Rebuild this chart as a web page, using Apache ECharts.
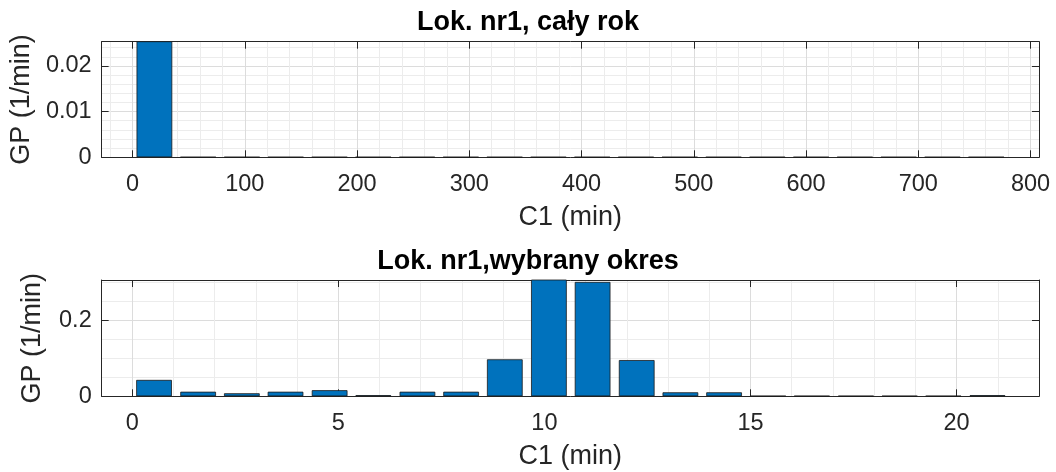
<!DOCTYPE html>
<html>
<head>
<meta charset="utf-8">
<script src="https://cdn.jsdelivr.net/npm/echarts@6/dist/echarts.min.js"></script>
<style>
html,body{margin:0;padding:0;background:#fff;}
#c{width:1056px;height:472px;}
</style>
</head>
<body>
<div id="c"></div>
<script>
// ---- data ----
const topTitle = 'Lok. nr1, cały rok';
const bottomTitle = 'Lok. nr1,wybrany okres';
const xName = 'C1 (min)';
const yName = 'GP (1/min)';

const topCenters = [19.5, 58.5, 97.5, 136.5, 175.5, 214.5, 253.5, 292.5, 331.5, 370.5,
                    409.5, 448.5, 487.5, 526.5, 565.5, 604.5, 643.5, 682.5, 721.5, 760.5];
const topValues = [0.026, 0.00005, 0.00005, 0.00005, 0.00005, 0.00005, 0.00005, 0.00005, 0.00005, 0.00005,
                   0.00005, 0.00005, 0.00005, 0.00005, 0.00005, 0.00005, 0.00005, 0.00005, 0.00005, 0.00005];

const bottomCenters = [0.53, 1.60, 2.66, 3.72, 4.79, 5.85, 6.92, 7.98, 9.04, 10.11,
                       11.17, 12.24, 13.30, 14.36, 15.43, 16.49, 17.56, 18.62, 19.68, 20.75];
const bottomValues = [0.043, 0.012, 0.008, 0.012, 0.016, 0.003, 0.012, 0.012, 0.097, 0.32,
                      0.300, 0.095, 0.0105, 0.0105, 0.001, 0.001, 0.001, 0.001, 0.001, 0.003];

const topXTicks = [0, 100, 200, 300, 400, 500, 600, 700, 800];
const topXMinor = [-20, 20, 40, 60, 80, 120, 140, 160, 180, 220, 240, 260, 280, 320, 340, 360, 380,
                   420, 440, 460, 480, 520, 540, 560, 580, 620, 640, 660, 680, 720, 740, 760, 780];
const topYTicks = [0, 0.01, 0.02];
const topYMinor = [0.002, 0.004, 0.006, 0.008, 0.012, 0.014, 0.016, 0.018, 0.022, 0.024];

const bottomXTicks = [0, 5, 10, 15, 20];
const bottomXMinor = [1, 2, 3, 4, 6, 7, 8, 9, 11, 12, 13, 14, 16, 17, 18, 19, 21];
const bottomYTicks = [0, 0.2];
const bottomYMinor = [0.05, 0.1, 0.15, 0.25, 0.3];

const topXRange = [-27.5, 807.5];
const topYRange = [0, 0.0253];
const bottomXRange = [-0.74, 22.0];
const bottomYRange = [0, 0.305];

// ---- styles ----
const FONT = 'Liberation Sans, Arial, Helvetica, sans-serif';
const AX = '#262626';
const MAJOR = '#dcdcdc';
const MINOR = '#ececec';
const BAR = '#0072BD';

function mainX(grid, range, ticks) {
  return {
    gridIndex: grid, type: 'value', position: 'bottom', min: range[0], max: range[1],
    axisLine: {show: true, onZero: false, lineStyle: {color: AX, width: 1}},
    axisTick: {show: true, inside: true, length: 7, customValues: ticks, lineStyle: {color: AX}},
    axisLabel: {show: true, customValues: ticks, margin: 15, fontSize: 23.5, fontFamily: FONT, color: AX},
    splitLine: {show: true, lineStyle: {color: MAJOR, width: 1}},
    name: xName, nameLocation: 'middle', nameGap: 47,
    nameTextStyle: {fontSize: 27, fontFamily: FONT, color: AX}
  };
}
function sideX(grid, range, ticks) {
  return {
    gridIndex: grid, type: 'value', position: 'top', min: range[0], max: range[1],
    axisLine: {show: true, onZero: false, lineStyle: {color: AX, width: 1}},
    axisTick: {show: true, inside: true, length: 7, customValues: ticks, lineStyle: {color: AX}},
    axisLabel: {show: false, customValues: ticks},
    splitLine: {show: false}
  };
}
function minorX(grid, range, minor) {
  return {
    gridIndex: grid, type: 'value', position: 'bottom', offset: 0, min: range[0], max: range[1],
    axisLine: {show: false},
    axisTick: {show: false, customValues: minor},
    axisLabel: {show: false, customValues: minor},
    splitLine: {show: true, lineStyle: {color: MINOR, width: 1}}
  };
}
function mainY(grid, range, ticks) {
  return {
    gridIndex: grid, type: 'value', position: 'left', min: range[0], max: range[1],
    axisLine: {show: true, onZero: false, lineStyle: {color: AX, width: 1}},
    axisTick: {show: true, inside: true, length: 7, customValues: ticks, lineStyle: {color: AX}},
    axisLabel: {show: true, customValues: ticks, margin: 10, fontSize: 23.5, fontFamily: FONT, color: AX},
    splitLine: {show: true, lineStyle: {color: MAJOR, width: 1}},
    name: yName, nameLocation: 'middle', nameGap: 56,
    nameTextStyle: {fontSize: 27, fontFamily: FONT, color: AX}
  };
}
function sideY(grid, range, ticks) {
  return {
    gridIndex: grid, type: 'value', position: 'right', min: range[0], max: range[1],
    axisLine: {show: true, onZero: false, lineStyle: {color: AX, width: 1}},
    axisTick: {show: true, inside: true, length: 7, customValues: ticks, lineStyle: {color: AX}},
    axisLabel: {show: false, customValues: ticks},
    splitLine: {show: false}
  };
}
function minorY(grid, range, minor) {
  return {
    gridIndex: grid, type: 'value', position: 'left', offset: 0, min: range[0], max: range[1],
    axisLine: {show: false},
    axisTick: {show: false, customValues: minor},
    axisLabel: {show: false, customValues: minor},
    splitLine: {show: true, lineStyle: {color: MINOR, width: 1}}
  };
}

const chart = echarts.init(document.getElementById('c'), null, {renderer: 'canvas'});
chart.setOption({
  animation: false,
  backgroundColor: '#fff',
  title: [
    {text: topTitle, left: 'center', top: 9, padding: 0,
     textStyle: {fontSize: 27, fontWeight: 'bold', fontFamily: FONT, color: '#000'}},
    {text: bottomTitle, left: 'center', top: 248, padding: 0,
     textStyle: {fontSize: 27, fontWeight: 'bold', fontFamily: FONT, color: '#000'}}
  ],
  grid: [
    {left: 101.5, top: 41.7, width: 937.5, height: 115.6, containLabel: false},
    {left: 101.7, top: 280, width: 937.3, height: 116.3, containLabel: false}
  ],
  xAxis: [
    mainX(0, topXRange, topXTicks),
    sideX(0, topXRange, topXTicks),
    mainX(1, bottomXRange, bottomXTicks),
    sideX(1, bottomXRange, bottomXTicks),
    minorX(0, topXRange, topXMinor),
    minorX(1, bottomXRange, bottomXMinor)
  ],
  yAxis: [
    mainY(0, topYRange, topYTicks),
    sideY(0, topYRange, topYTicks),
    mainY(1, bottomYRange, bottomYTicks),
    sideY(1, bottomYRange, bottomYTicks),
    minorY(0, topYRange, topYMinor),
    minorY(1, bottomYRange, bottomYMinor)
  ],
  series: [
    {type: 'bar', xAxisIndex: 0, yAxisIndex: 0, barWidth: 35.7, clip: true,
     itemStyle: {color: BAR, borderColor: '#1a1a1a', borderWidth: 0.8},
     data: topCenters.map((c, i) => [c, topValues[i]])},
    {type: 'bar', xAxisIndex: 2, yAxisIndex: 2, barWidth: 35.7, clip: true,
     itemStyle: {color: BAR, borderColor: '#1a1a1a', borderWidth: 0.8},
     data: bottomCenters.map((c, i) => [c, bottomValues[i]])}
  ]
});
</script>
</body>
</html>
